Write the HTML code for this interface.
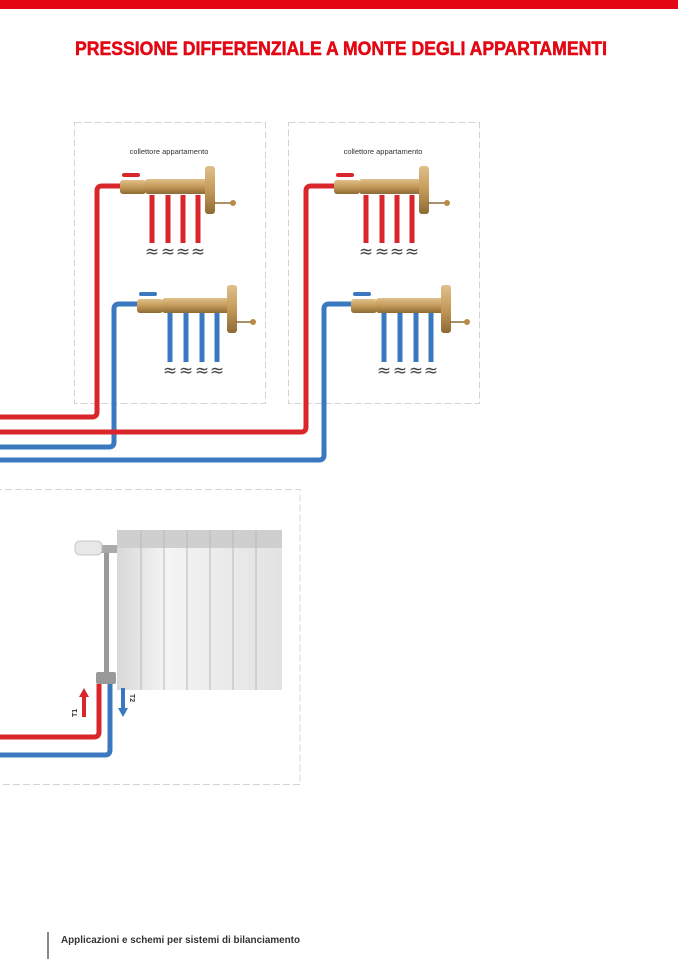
<!DOCTYPE html>
<html><head><meta charset="utf-8"><style>
html,body{margin:0;padding:0;background:#fff;width:678px;height:959px;overflow:hidden}
svg{display:block}
</style></head><body>
<svg width="678" height="959" viewBox="0 0 678 959" xmlns="http://www.w3.org/2000/svg" font-family="Liberation Sans, sans-serif">
<defs>
<linearGradient id="brass" x1="0" y1="0" x2="0" y2="1"><stop offset="0" stop-color="#e0c08a"/><stop offset="0.5" stop-color="#c49a5a"/><stop offset="1" stop-color="#8d6a35"/></linearGradient>
<linearGradient id="rad" x1="0" y1="0" x2="1" y2="0"><stop offset="0" stop-color="#d8d8d8"/><stop offset="0.3" stop-color="#f4f4f4"/><stop offset="1" stop-color="#e2e2e2"/></linearGradient>
</defs>
<rect x="0" y="0" width="678" height="9" fill="#e30613"/>
<text x="75" y="55" font-size="19" font-weight="bold" fill="#e30613" stroke="#e30613" stroke-width="0.5" textLength="532" lengthAdjust="spacingAndGlyphs">PRESSIONE DIFFERENZIALE A MONTE DEGLI APPARTAMENTI</text>

<g fill="none" stroke="#d4d4d4" stroke-width="1" stroke-dasharray="7,3">
<rect x="74.5" y="122.5" width="191" height="281"/>
<rect x="288.5" y="122.5" width="191" height="281"/>
<rect x="-5" y="489.5" width="305" height="295"/>
</g>
<text x="169" y="154" font-size="7.5" text-anchor="middle" fill="#333">collettore appartamento</text>
<text x="383" y="154" font-size="7.5" text-anchor="middle" fill="#333">collettore appartamento</text>

<g fill="none" stroke-width="5" stroke-linejoin="round">
<path d="M120 186 H102 Q97 186 97 191 V412 Q97 417 92 417 H0" stroke="#d9262b"/>
<path d="M137 304 H119 Q114 304 114 309 V442 Q114 447 109 447 H0" stroke="#3a78c0"/>
<path d="M334 186 H311 Q306 186 306 191 V427 Q306 432 301 432 H0" stroke="#d9262b"/>
<path d="M351 304 H329 Q324 304 324 309 V455 Q324 460 319 460 H0" stroke="#3a78c0"/>
</g>

<g stroke-width="5">
<g stroke="#d9262b"><line x1="152" y1="195" x2="152" y2="243"/><line x1="168" y1="195" x2="168" y2="243"/><line x1="183" y1="195" x2="183" y2="243"/><line x1="198" y1="195" x2="198" y2="243"/>
<line x1="366" y1="195" x2="366" y2="243"/><line x1="382" y1="195" x2="382" y2="243"/><line x1="397" y1="195" x2="397" y2="243"/><line x1="412" y1="195" x2="412" y2="243"/></g>
<g stroke="#3a78c0"><line x1="170" y1="313" x2="170" y2="362"/><line x1="186" y1="313" x2="186" y2="362"/><line x1="202" y1="313" x2="202" y2="362"/><line x1="217" y1="313" x2="217" y2="362"/>
<line x1="384" y1="313" x2="384" y2="362"/><line x1="400" y1="313" x2="400" y2="362"/><line x1="416" y1="313" x2="416" y2="362"/><line x1="431" y1="313" x2="431" y2="362"/></g>
</g>
<g font-size="17" fill="#444" text-anchor="middle" font-family="DejaVu Sans, sans-serif">
<text x="152" y="257">≈</text><text x="168" y="257">≈</text><text x="183" y="257">≈</text><text x="198" y="257">≈</text>
<text x="366" y="257">≈</text><text x="382" y="257">≈</text><text x="397" y="257">≈</text><text x="412" y="257">≈</text>
<text x="170" y="376">≈</text><text x="186" y="376">≈</text><text x="202" y="376">≈</text><text x="217" y="376">≈</text>
<text x="384" y="376">≈</text><text x="400" y="376">≈</text><text x="416" y="376">≈</text><text x="431" y="376">≈</text>
</g>

<g transform="translate(120,177)"><rect x="0" y="3" width="26" height="14" rx="3" fill="url(#brass)"/><rect x="2" y="-4" width="18" height="4" rx="2" fill="#d9262b"/><rect x="25" y="2" width="65" height="15" rx="3" fill="url(#brass)"/><rect x="85" y="-11" width="10" height="48" rx="3" fill="url(#brass)"/><line x1="94" y1="26" x2="112" y2="26" stroke="#8d6a35" stroke-width="1.5"/><circle cx="113" cy="26" r="3" fill="#b78a4a"/></g>
<g transform="translate(334,177)"><rect x="0" y="3" width="26" height="14" rx="3" fill="url(#brass)"/><rect x="2" y="-4" width="18" height="4" rx="2" fill="#d9262b"/><rect x="25" y="2" width="65" height="15" rx="3" fill="url(#brass)"/><rect x="85" y="-11" width="10" height="48" rx="3" fill="url(#brass)"/><line x1="94" y1="26" x2="112" y2="26" stroke="#8d6a35" stroke-width="1.5"/><circle cx="113" cy="26" r="3" fill="#b78a4a"/></g>
<g transform="translate(137,296)"><rect x="0" y="3" width="26" height="14" rx="3" fill="url(#brass)"/><rect x="2" y="-4" width="18" height="4" rx="2" fill="#3a78c0"/><rect x="25" y="2" width="70" height="15" rx="3" fill="url(#brass)"/><rect x="90" y="-11" width="10" height="48" rx="3" fill="url(#brass)"/><line x1="99" y1="26" x2="115" y2="26" stroke="#8d6a35" stroke-width="1.5"/><circle cx="116" cy="26" r="3" fill="#b78a4a"/></g>
<g transform="translate(351,296)"><rect x="0" y="3" width="26" height="14" rx="3" fill="url(#brass)"/><rect x="2" y="-4" width="18" height="4" rx="2" fill="#3a78c0"/><rect x="25" y="2" width="70" height="15" rx="3" fill="url(#brass)"/><rect x="90" y="-11" width="10" height="48" rx="3" fill="url(#brass)"/><line x1="99" y1="26" x2="115" y2="26" stroke="#8d6a35" stroke-width="1.5"/><circle cx="116" cy="26" r="3" fill="#b78a4a"/></g>

<rect x="117" y="530" width="165" height="160" fill="url(#rad)"/>
<rect x="117" y="530" width="165" height="18" fill="#cfcfcf"/>
<g stroke="#b8b8b8" stroke-width="1">
<line x1="141" y1="530" x2="141" y2="690"/><line x1="164" y1="530" x2="164" y2="690"/><line x1="187" y1="530" x2="187" y2="690"/><line x1="210" y1="530" x2="210" y2="690"/><line x1="233" y1="530" x2="233" y2="690"/><line x1="256" y1="530" x2="256" y2="690"/>
</g>
<rect x="104" y="548" width="5" height="128" fill="#9a9a9a"/>
<rect x="100" y="545" width="17" height="8" fill="#aaa"/>
<rect x="75" y="541" width="27" height="14" rx="5" fill="#e8e8e8" stroke="#bbb" stroke-width="0.8"/>
<rect x="96" y="672" width="20" height="12" rx="2" fill="#999"/>
<g fill="none" stroke-width="5" stroke-linejoin="round">
<path d="M99 684 V732 Q99 737 94 737 H0" stroke="#d9262b"/>
<path d="M110 684 V750 Q110 755 105 755 H0" stroke="#3a78c0"/>
</g>
<path d="M82 717 V697 H79 L84 688 L89 697 H86 V717 Z" fill="#d9262b"/>
<path d="M121 688 V708 H118 L123 717 L128 708 H125 V688 Z" fill="#3a78c0"/>
<text transform="translate(77,717) rotate(-90)" font-size="7" font-weight="bold" fill="#333">T1</text>
<text transform="translate(130,694) rotate(90)" font-size="7" font-weight="bold" fill="#333">T2</text>

<rect x="47" y="932" width="2" height="27" fill="#888"/>
<text x="61" y="943" font-size="10" font-weight="bold" fill="#333" textLength="239" lengthAdjust="spacingAndGlyphs">Applicazioni e schemi per sistemi di bilanciamento</text>
</svg>
</body></html>
